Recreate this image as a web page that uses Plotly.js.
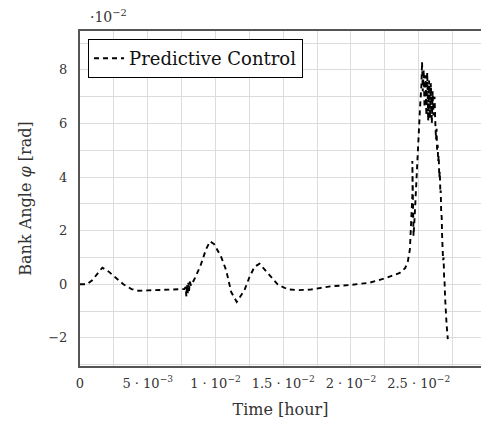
<!DOCTYPE html>
<html><head><meta charset="utf-8">
<script src="https://cdn.plot.ly/plotly-3.0.1.min.js"></script>
<style>body{margin:0;background:#fff}#c{width:481px;height:428px}</style>
</head><body><div id="c"></div>
<script>
// time in units of 1e-3 hour, bank angle in units of 1e-2 rad
const timeK = [0,0.5,0.9,1.3,1.65,2.1,2.6,3.2,3.8,4.3,5.0,6.0,7.0,7.7,
 7.8,7.85,7.9,7.95,8.0,8.05,8.1,8.2,8.5,8.9,9.3,9.6,9.9,10.42,10.79,11.16,11.57,12.14,12.51,12.88,13.25,13.99,14.6,15.34,16.07,
 17.0,18.6,19.9,21.4,22.5,23.6,24.0,24.2,24.35,
 24.4,24.45,24.42,24.5,24.47,24.55,24.53,24.58,24.62,24.7,24.8,24.9,25.0,25.1,25.2,25.25,
 25.3,25.37,25.43,25.5,25.57,25.63,25.7,25.77,25.83,25.9,25.97,26.03,26.1,26.17,26.23,
 26.28,26.32,26.36,26.4,26.44,26.48,26.52,26.56,26.6,26.63,26.66,26.7,26.73,26.77,26.8,26.84,26.88,26.91,26.95,26.99,27.06,27.15];
const bankC = [0,0,0.15,0.4,0.62,0.48,0.25,0.0,-0.18,-0.24,-0.23,-0.22,-0.2,-0.18,
 -0.1,-0.45,0.0,-0.35,0.05,-0.25,0.1,-0.05,0.25,0.7,1.3,1.6,1.5,1.02,0.52,-0.29,-0.66,-0.22,0.27,0.65,0.77,0.34,-0.01,-0.19,-0.22,
 -0.2,-0.07,-0.03,0.06,0.22,0.42,0.6,0.85,1.3,
 1.8,2.5,2.2,3.0,2.7,3.5,4.6,2.5,1.8,2.5,3.6,4.7,5.6,6.6,7.4,8.3,
 7.2,8.0,6.6,7.8,6.3,7.9,6.1,7.6,6.2,7.5,6.0,7.2,6.3,7.0,6.0,
 5.4,5.8,5.0,5.2,4.6,4.8,4.0,4.2,3.4,3.5,2.7,2.5,1.8,1.5,0.9,1.0,0.2,0.1,-0.5,-1.0,-1.5,-2.05];
const xTickVals = [0,2.5,5,7.5,10,12.5,15,17.5,20,22.5,25,27.5];
const xTickText = ['0','','5 · 10<sup>−3</sup>','','1 · 10<sup>−2</sup>','','1.5 · 10<sup>−2</sup>','','2 · 10<sup>−2</sup>','','2.5 · 10<sup>−2</sup>',''];
const yTickVals = [-3,-2,-1,0,1,2,3,4,5,6,7,8,9];
const yTickText = ['','−2','','0','','2','','4','','6','','8',''];
const seriesName = 'Predictive Control';

const font = 'DejaVu Serif, serif';
Plotly.newPlot('c', [{
  x: timeK, y: bankC, type: 'scatter', mode: 'lines', name: seriesName,
  line: {color: '#000', width: 1.9, dash: '5px,4px'}
}], {
  width: 481, height: 428,
  margin: {l: 80, r: 0, t: 31, b: 62},
  paper_bgcolor: '#fff', plot_bgcolor: '#fff',
  font: {family: font, color: '#222', size: 13},
  showlegend: true,
  legend: {x: 0.02, y: 0.976, xanchor: 'left', yanchor: 'top', bgcolor: '#fff',
    bordercolor: '#000', borderwidth: 1, font: {size: 18, color: '#111', family: font}},
  xaxis: {range: [0, 29.6], tickvals: xTickVals, ticktext: xTickText, tickmode: 'array',
    showgrid: true, gridcolor: '#dcdcdc', gridwidth: 1, zeroline: false,
    showline: true, linecolor: '#555', linewidth: 2, mirror: true, ticks: '',
    tickfont: {size: 13, color: '#333'}, ticklabelstandoff: 4,
    title: {text: 'Time [hour]', font: {size: 16, color: '#333'}, standoff: 14}},
  yaxis: {range: [-3.05, 9.45], tickvals: yTickVals, ticktext: yTickText, tickmode: 'array',
    showgrid: true, gridcolor: '#dcdcdc', gridwidth: 1, zeroline: false,
    showline: true, linecolor: '#555', linewidth: 2, mirror: false, ticks: '',
    tickfont: {size: 13, color: '#333'}, ticklabelstandoff: 8,
    title: {text: 'Bank Angle <i>φ</i> [rad]', font: {size: 16, color: '#333'}, standoff: 13}},
  annotations: [{xref: 'paper', yref: 'paper', x: 0.02, y: 1.0, xanchor: 'left', yanchor: 'bottom', yshift: 4,
    text: '·10<sup>−2</sup>', showarrow: false, font: {size: 14, color: '#333', family: font}}]
}, {displayModeBar: false, staticPlot: true});
</script></body></html>
